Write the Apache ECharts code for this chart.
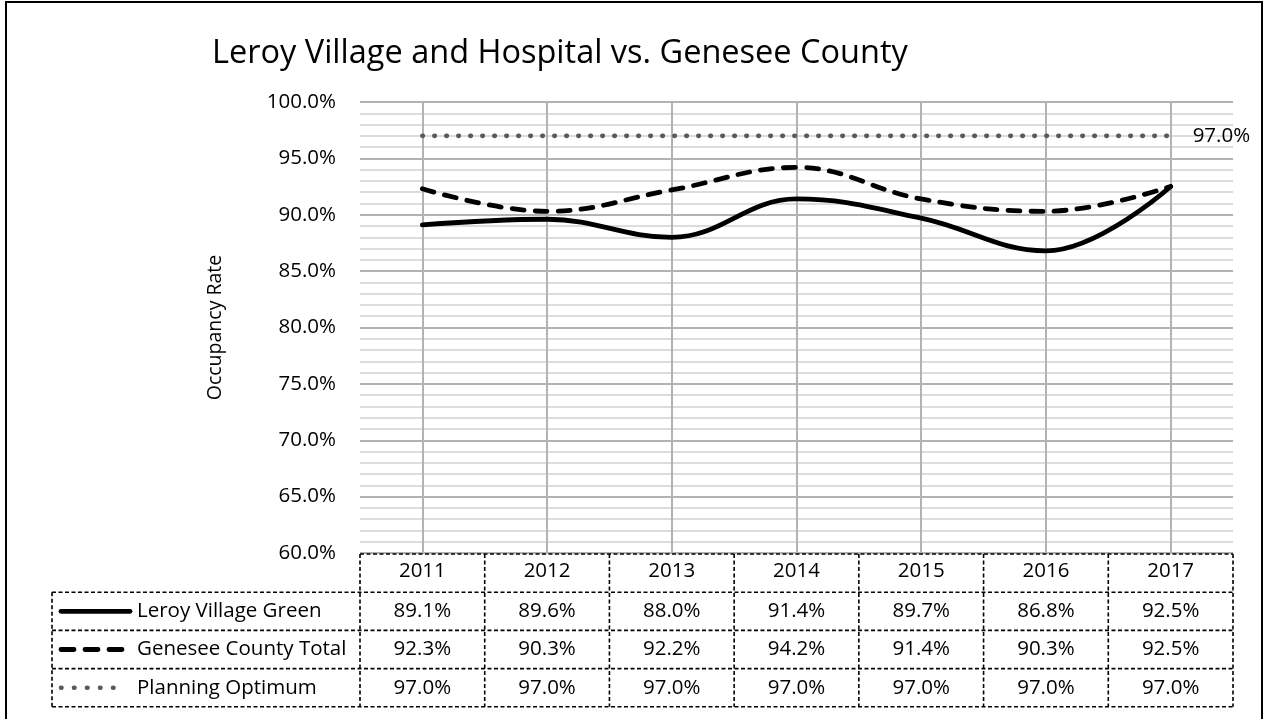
<!DOCTYPE html>
<html>
<head>
<meta charset="utf-8">
<script src="https://cdn.jsdelivr.net/npm/echarts@6/dist/echarts.min.js"></script>
<style>
  html, body { margin: 0; padding: 0; background: #fff; }
  #chart { width: 1265px; height: 719px; }
</style>
</head>
<body>
<div id="chart"></div>
<script>
// data
const years = ['2011', '2012', '2013', '2014', '2015', '2016', '2017'];
const leroyGreen = [89.1, 89.6, 88.0, 91.4, 89.7, 86.8, 92.5];
const geneseeTotal = [92.3, 90.3, 92.2, 94.2, 91.4, 90.3, 92.5];
const planningOptimum = [97.0, 97.0, 97.0, 97.0, 97.0, 97.0, 97.0];
const seriesNames = ['Leroy Village Green', 'Genesee County Total', 'Planning Optimum'];

const FONT = '"Open Sans", sans-serif';
const TXT = 20.5;
const pct = v => v.toFixed(1) + '%';

const chart = echarts.init(document.getElementById('chart'));

const lineStyles = [
  { color: '#000', width: 4.8, type: 'solid', cap: 'round' },
  { color: '#000', width: 4.8, type: [12, 11], cap: 'round' },
  { color: '#595959', width: 4.6, type: [0.5, 11.5], cap: 'round' }
];
// legend keys drawn in the table's first column
const keyDash = [null, [13, 11], [0.5, 12.5]];

chart.setOption({
  animation: false,
  title: {
    text: 'Leroy Village and Hospital vs. Genesee County',
    left: 207,
    top: 32,
    textStyle: { fontFamily: FONT, fontSize: 32.5, fontWeight: 'normal', color: '#000' }
  },
  grid: { left: 360, right: 32, top: 102, bottom: 166 },
  xAxis: {
    type: 'category',
    data: years,
    boundaryGap: true,
    axisLine: { show: false },
    axisTick: { show: false },
    splitLine: { show: false },
    axisLabel: { margin: 8, fontFamily: FONT, fontSize: TXT, color: '#000' }
  },
  yAxis: {
    type: 'value',
    min: 60,
    max: 100,
    interval: 5,
    name: 'Occupancy Rate',
    nameLocation: 'middle',
    nameGap: 135,
    nameTextStyle: { fontFamily: FONT, fontSize: 19.5, color: '#000' },
    axisLine: { show: false },
    axisTick: { show: false },
    axisLabel: { margin: 24, fontFamily: FONT, fontSize: TXT, color: '#000', formatter: v => pct(v) },
    splitLine: { lineStyle: { color: '#b3b3b3', width: 2 } },
    minorTick: { show: false, splitNumber: 5 },
    minorSplitLine: { show: true, lineStyle: { color: '#dcdcdc', width: 2 } }
  },
  series: [
    {
      name: seriesNames[0], type: 'line', data: leroyGreen, smooth: 0.4,
      symbol: 'none', lineStyle: lineStyles[0], z: 4
    },
    {
      name: seriesNames[1], type: 'line', data: geneseeTotal, smooth: 0.4,
      symbol: 'none', lineStyle: lineStyles[1], z: 3
    },
    {
      name: seriesNames[2], type: 'line', data: planningOptimum,
      symbol: 'none', lineStyle: lineStyles[2], z: 2,
      endLabel: { show: true, formatter: p => pct(p.value), distance: 22,
        fontFamily: FONT, fontSize: TXT, color: '#000' },
      markLine: {
        silent: true, symbol: 'none', label: { show: false },
        lineStyle: { color: '#b3b3b3', width: 2, type: 'solid' },
        data: years.map(y => [{ coord: [y, 60] }, { coord: [y, 100] }]),
        z: 1
      }
    }
  ]
});

// data table under the plot, built from the same arrays
function drawTable() {
  const top = chart.convertToPixel({ yAxisIndex: 0 }, 60);
  const step = chart.convertToPixel({ xAxisIndex: 0 }, years[1]) - chart.convertToPixel({ xAxisIndex: 0 }, years[0]);
  const x0 = chart.convertToPixel({ xAxisIndex: 0 }, years[0]) - step / 2;
  const x1 = x0 + step * years.length;
  const rowH = 38.2;
  const left = 52;
  const dash = { stroke: '#000', lineWidth: 1.6, lineDash: [4, 2.5] };
  const els = [];
  const hline = (xa, xb, y) => els.push({ type: 'line', shape: { x1: xa, y1: y, x2: xb, y2: y }, style: dash, silent: true });
  const vline = (x, ya, yb) => els.push({ type: 'line', shape: { x1: x, y1: ya, x2: x, y2: yb }, style: dash, silent: true });

  // header row covers only the year columns
  hline(x0, x1, top + 1);
  for (let r = 1; r <= 4; r++) hline(left, x1, top + 1 + rowH * r);
  vline(left, top + 1 + rowH, top + 1 + rowH * 4);
  for (let c = 0; c <= years.length; c++) vline(x0 + step * c, top + 1, top + 1 + rowH * 4);

  const rows = [leroyGreen, geneseeTotal, planningOptimum];
  rows.forEach((vals, r) => {
    const cy = top + 1 + rowH * (r + 1.5);
    const ls = lineStyles[r];
    els.push({
      type: 'line', silent: true,
      shape: { x1: 61, y1: cy, x2: r === 0 ? 130 : 125, y2: cy },
      style: { stroke: ls.color, lineWidth: ls.width, lineCap: 'round', lineDash: keyDash[r] }
    });
    els.push({
      type: 'text', silent: true, x: 137, y: cy,
      style: { text: seriesNames[r], fontFamily: FONT, fontSize: TXT, fill: '#000', verticalAlign: 'middle' }
    });
    vals.forEach((v, c) => {
      els.push({
        type: 'text', silent: true,
        x: chart.convertToPixel({ xAxisIndex: 0 }, years[c]), y: cy,
        style: { text: pct(v), fontFamily: FONT, fontSize: TXT, fill: '#000', align: 'center', verticalAlign: 'middle' }
      });
    });
  });

  // outer frame of the chart
  els.push({ type: 'rect', silent: true, shape: { x: 6, y: 2, width: 1256, height: 760 },
    style: { fill: null, stroke: '#000', lineWidth: 2 } });

  chart.setOption({ graphic: { elements: els } });
}
drawTable();
</script>
</body>
</html>
